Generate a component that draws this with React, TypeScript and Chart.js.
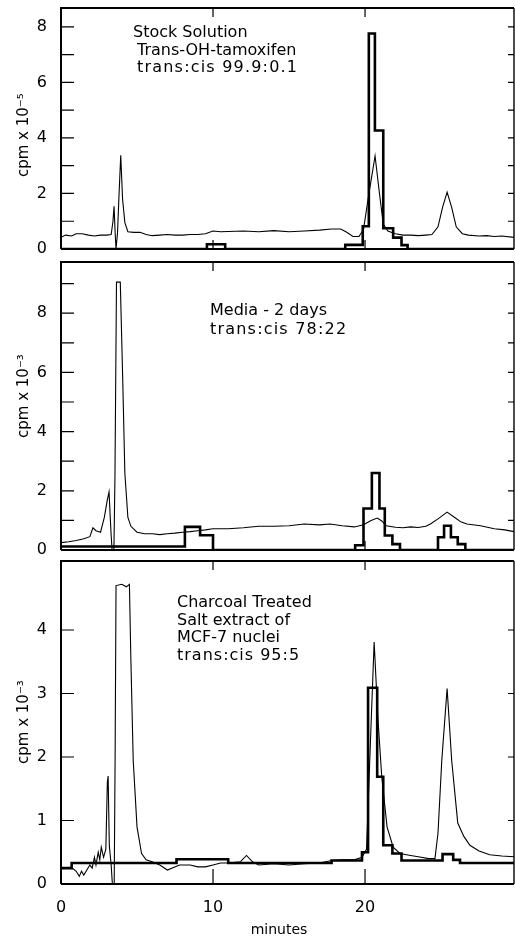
import React, { useEffect, useRef } from 'react';
import { Chart, registerables } from 'chart.js';

Chart.register(...registerables);

const FONT = '"DejaVu Sans", "Noto Sans", sans-serif';

// shared x axis (minutes)
const X_MIN = 0;
const X_MAX = 29.8;
const X_TICKS = [0, 10, 20];
const X_TITLE = 'minutes';

// ---------- Panel 1: Stock solution (cpm x 10^-5) ----------
const P1_TITLE = 'cpm x 10\u207B\u2075';
const P1_NOTES = ['Stock Solution', 'Trans-OH-tamoxifen', 'trans:cis 99.9:0.1'];
const P1_YLABELS = [0, 2, 4, 6, 8];
const P1_YMINOR = [1, 2, 3, 4, 5, 6, 7, 8];
const P1_TRACE: [number, number][] = [
  [0, 0.42], [0.3, 0.5], [0.7, 0.47], [1.0, 0.55], [1.4, 0.55], [1.8, 0.5], [2.2, 0.47], [2.6, 0.5],
  [3.0, 0.5], [3.3, 0.52], [3.42, 1.0], [3.49, 1.54], [3.56, 0.6], [3.62, 0.0], [3.68, 0.0], [3.72, 0.6],
  [3.82, 2.0], [3.93, 3.38], [4.05, 1.8], [4.2, 0.95], [4.4, 0.62], [4.8, 0.6], [5.2, 0.6], [5.6, 0.52],
  [6.0, 0.48], [6.5, 0.5], [7, 0.52], [7.5, 0.5], [8, 0.5], [8.5, 0.52], [9, 0.52], [9.5, 0.55],
  [10, 0.65], [10.5, 0.62], [11, 0.63], [12, 0.65], [13, 0.62], [14, 0.66], [15, 0.62], [16, 0.65],
  [17, 0.68], [17.8, 0.72], [18.4, 0.72], [18.8, 0.6], [19.2, 0.45], [19.6, 0.45], [19.9, 0.7],
  [20.2, 1.8], [20.66, 3.35], [20.95, 2.0], [21.2, 0.9], [21.5, 0.65], [22, 0.55], [22.5, 0.5],
  [23, 0.5], [23.5, 0.48], [24, 0.5], [24.4, 0.52], [24.8, 0.8], [25.1, 1.5], [25.4, 2.05],
  [25.7, 1.5], [26.0, 0.8], [26.4, 0.55], [26.8, 0.5], [27.5, 0.47], [28, 0.48], [28.5, 0.45],
  [29, 0.47], [29.8, 0.42],
];
const P1_HIST: [number, number][] = [
  [0, 0], [9.6, 0.17], [10.8, 0], [18.7, 0.15], [19.85, 0.82], [20.25, 7.76], [20.65, 4.27],
  [21.2, 0.75], [21.85, 0.41], [22.4, 0.14], [22.8, 0], [29.8, 0],
];

// ---------- Panel 2: Media - 2 days (cpm x 10^-3) ----------
const P2_TITLE = 'cpm x 10\u207B\u00B3';
const P2_NOTES = ['Media - 2 days', 'trans:cis 78:22'];
const P2_YLABELS = [0, 2, 4, 6, 8];
const P2_YMINOR = [1, 2, 3, 4, 5, 6, 7, 8, 9];
const P2_TRACE: [number, number][] = [
  [0, 0.25], [0.5, 0.28], [1.0, 0.32], [1.5, 0.38], [1.9, 0.45], [2.1, 0.75], [2.3, 0.65], [2.6, 0.6],
  [2.85, 1.1], [3.05, 1.7], [3.16, 1.96], [3.25, 1.0], [3.3, 0.5], [3.36, 0], [3.48, 0], [3.55, 2.5],
  [3.65, 9.05], [3.9, 9.05], [4.05, 6.0], [4.2, 2.6], [4.4, 1.1], [4.6, 0.8], [5.0, 0.6], [5.5, 0.55],
  [6, 0.55], [6.5, 0.52], [7, 0.55], [7.5, 0.57], [8, 0.6], [8.5, 0.62], [9, 0.65], [9.5, 0.68],
  [10, 0.72], [11, 0.72], [12, 0.75], [13, 0.8], [14, 0.8], [15, 0.82], [16, 0.88], [17, 0.85],
  [17.7, 0.88], [18.5, 0.82], [19.3, 0.78], [19.9, 0.85], [20.4, 1.0], [20.8, 1.08], [21.1, 0.98],
  [21.4, 0.82], [22, 0.77], [22.5, 0.75], [23, 0.78], [23.5, 0.76], [24, 0.8], [24.3, 0.88],
  [24.8, 1.05], [25.4, 1.28], [25.9, 1.1], [26.3, 0.95], [26.7, 0.88], [27.6, 0.82], [28.5, 0.72],
  [29.2, 0.68], [29.8, 0.62],
];
const P2_HIST: [number, number][] = [
  [0, 0.12], [8.15, 0.78], [9.15, 0.5], [10, 0], [19.35, 0.16], [19.9, 1.4], [20.45, 2.6],
  [20.95, 1.4], [21.3, 0.49], [21.8, 0.2], [22.3, 0], [24.8, 0.43], [25.2, 0.82], [25.65, 0.43],
  [26.1, 0.2], [26.6, 0], [29.8, 0],
];

// ---------- Panel 3: Charcoal treated salt extract (cpm x 10^-3) ----------
const P3_TITLE = 'cpm x 10\u207B\u00B3';
const P3_NOTES = ['Charcoal Treated', 'Salt extract of', 'MCF-7 nuclei', 'trans:cis 95:5'];
const P3_YLABELS = [0, 1, 2, 3, 4];
const P3_YMINOR = [1, 2, 3, 4];
const P3_TRACE: [number, number][] = [
  [0, 0.24], [0.4, 0.25], [0.8, 0.24], [1.0, 0.2], [1.2, 0.12], [1.35, 0.2], [1.5, 0.14], [1.7, 0.22],
  [1.9, 0.3], [2.05, 0.25], [2.2, 0.42], [2.3, 0.3], [2.45, 0.5], [2.55, 0.38], [2.65, 0.58],
  [2.8, 0.42], [2.95, 0.55], [3.05, 1.6], [3.1, 1.7], [3.18, 0.6], [3.3, 0.3], [3.38, 0], [3.5, 0],
  [3.56, 2.0], [3.62, 4.7], [4.0, 4.72], [4.3, 4.68], [4.5, 4.72], [4.6, 3.5], [4.75, 1.95],
  [5.0, 0.9], [5.3, 0.48], [5.6, 0.38], [6, 0.35], [6.5, 0.3], [7, 0.22], [7.4, 0.26], [7.8, 0.3],
  [8.5, 0.3], [9, 0.27], [9.5, 0.27], [10, 0.3], [10.5, 0.33], [11, 0.33], [11.8, 0.35], [12.2, 0.45],
  [12.6, 0.35], [13, 0.3], [14, 0.32], [15, 0.3], [16, 0.32], [17, 0.33], [17.8, 0.37], [18.5, 0.38],
  [19.3, 0.38], [19.8, 0.42], [20.1, 0.55], [20.35, 2.2], [20.6, 3.81], [20.85, 2.6], [21.1, 1.69],
  [21.45, 0.9], [21.85, 0.58], [22.3, 0.48], [23, 0.45], [23.5, 0.43], [24.2, 0.4], [24.6, 0.4],
  [24.8, 0.8], [25.05, 1.95], [25.4, 3.08], [25.7, 1.95], [26.1, 0.96], [26.5, 0.75], [26.9, 0.61],
  [27.5, 0.52], [28.2, 0.46], [29, 0.44], [29.8, 0.43],
];
const P3_HIST: [number, number][] = [
  [0, 0.25], [0.7, 0.33], [7.6, 0.39], [11, 0.33], [17.8, 0.37], [19.8, 0.5], [20.2, 3.09],
  [20.8, 1.69], [21.2, 0.61], [21.8, 0.48], [22.4, 0.37], [25.1, 0.47], [25.8, 0.38], [26.25, 0.33],
  [29.8, 0.33],
];

type Note = { text: string; dx: number; dy: number; spacing?: number };
type PanelCfg = {
  top: number;
  height: number;
  areaTop: number;
  areaBottom: number;
  yMax: number;
  yLabels: number[];
  yMinor: number[];
  trace: [number, number][];
  hist: [number, number][];
  title: string;
  titleValue: number;
  notes: Note[];
  showX: boolean;
};

const PANELS: PanelCfg[] = [
  {
    top: 0, height: 275, areaTop: 8, areaBottom: 262, yMax: 8.68,
    yLabels: P1_YLABELS, yMinor: P1_YMINOR, trace: P1_TRACE, hist: P1_HIST,
    title: P1_TITLE, titleValue: 4.1,
    notes: [
      { text: P1_NOTES[0], dx: 72, dy: 29 },
      { text: P1_NOTES[1], dx: 76, dy: 47 },
      { text: P1_NOTES[2], dx: 76, dy: 64, spacing: 1.2 },
    ],
    showX: false,
  },
  {
    top: 255, height: 315, areaTop: 262, areaBottom: 560, yMax: 9.73,
    yLabels: P2_YLABELS, yMinor: P2_YMINOR, trace: P2_TRACE, hist: P2_HIST,
    title: P2_TITLE, titleValue: 5.2,
    notes: [
      { text: P2_NOTES[0], dx: 149, dy: 53 },
      { text: P2_NOTES[1], dx: 149, dy: 72, spacing: 1.2 },
    ],
    showX: false,
  },
  {
    top: 553, height: 383, areaTop: 561, areaBottom: 884, yMax: 5.087,
    yLabels: P3_YLABELS, yMinor: P3_YMINOR, trace: P3_TRACE, hist: P3_HIST,
    title: P3_TITLE, titleValue: 2.55,
    notes: [
      { text: P3_NOTES[0], dx: 116, dy: 46 },
      { text: P3_NOTES[1], dx: 116, dy: 63.5 },
      { text: P3_NOTES[2], dx: 116, dy: 81 },
      { text: P3_NOTES[3], dx: 116, dy: 98.5, spacing: 1.0 },
    ],
    showX: true,
  },
];

function makeFramePlugin(cfg: PanelCfg) {
  return {
    id: 'frameAndText',
    afterDraw(chart: any) {
      const { ctx, chartArea } = chart;
      const { left, right, top, bottom } = chartArea;
      const xs = chart.scales.x;
      const ys = chart.scales.y;
      ctx.save();
      ctx.strokeStyle = '#000';
      ctx.fillStyle = '#000';
      ctx.lineCap = 'butt';
      // frame
      ctx.lineWidth = 2;
      ctx.beginPath();
      ctx.moveTo(left, bottom);
      ctx.lineTo(left, top);
      ctx.lineTo(right, top);
      ctx.moveTo(left, bottom);
      ctx.lineTo(right, bottom);
      ctx.stroke();
      ctx.lineWidth = 1.4;
      ctx.beginPath();
      ctx.moveTo(right, top);
      ctx.lineTo(right, bottom);
      ctx.stroke();
      // y ticks (inward)
      ctx.lineWidth = 1.2;
      ctx.beginPath();
      for (const v of cfg.yMinor) {
        const y = ys.getPixelForValue(v);
        ctx.moveTo(left, y);
        ctx.lineTo(left + 13, y);
        ctx.moveTo(right, y);
        ctx.lineTo(right - 6, y);
      }
      // x ticks (inward, top and bottom)
      for (const v of X_TICKS) {
        if (v === X_MIN) continue;
        const x = xs.getPixelForValue(v);
        ctx.moveTo(x, top);
        ctx.lineTo(x, top + 9);
        ctx.moveTo(x, bottom);
        ctx.lineTo(x, bottom - (cfg.showX ? 15 : 9));
      }
      ctx.stroke();
      // y-axis title
      ctx.save();
      ctx.font = `15px ${FONT}`;
      ctx.textAlign = 'center';
      ctx.textBaseline = 'middle';
      ctx.translate(24, ys.getPixelForValue(cfg.titleValue));
      ctx.rotate(-Math.PI / 2);
      ctx.fillText(cfg.title, 0, 0);
      ctx.restore();
      // annotation text
      ctx.font = `16px ${FONT}`;
      ctx.textAlign = 'left';
      ctx.textBaseline = 'alphabetic';
      for (const n of cfg.notes) {
        (ctx as any).letterSpacing = `${n.spacing ?? 0}px`;
        ctx.fillText(n.text, left + n.dx, top + n.dy);
      }
      (ctx as any).letterSpacing = '0px';
      // x-axis title on the bottom panel
      if (cfg.showX) {
        ctx.font = `14px ${FONT}`;
        ctx.textAlign = 'center';
        ctx.fillText(X_TITLE, left + 218, bottom + 50);
      }
      ctx.restore();
    },
  };
}

function Panel({ cfg }: { cfg: PanelCfg }) {
  const ref = useRef<HTMLCanvasElement | null>(null);
  useEffect(() => {
    const canvas = ref.current;
    if (!canvas) return;
    const xAxisHeight = cfg.top + cfg.height - cfg.areaBottom;
    const chart = new Chart(canvas, {
      type: 'line',
      data: {
        datasets: [
          {
            data: cfg.hist.map(([x, y]) => ({ x, y })),
            borderColor: '#000',
            borderWidth: 2.6,
            stepped: 'before',
            pointRadius: 0,
            fill: false,
          },
          {
            data: cfg.trace.map(([x, y]) => ({ x, y })),
            borderColor: '#000',
            borderWidth: 1.1,
            pointRadius: 0,
            tension: 0,
            fill: false,
          },
        ],
      },
      options: {
        responsive: false,
        animation: false,
        events: [],
        layout: {
          padding: {
            top: cfg.areaTop - cfg.top,
            bottom: cfg.showX ? 0 : cfg.top + cfg.height - cfg.areaBottom,
            left: 0,
            right: 1,
          },
        },
        plugins: {
          legend: { display: false },
          tooltip: { enabled: false },
          title: { display: false },
        },
        scales: {
          x: {
            type: 'linear',
            min: X_MIN,
            max: X_MAX,
            display: cfg.showX,
            grid: { display: false },
            border: { display: false },
            ticks: {
              color: '#000',
              font: { family: FONT, size: 16 },
              padding: 6,
              maxRotation: 0,
              autoSkip: false,
            },
            afterBuildTicks: (s: any) => {
              s.ticks = X_TICKS.map((v) => ({ value: v }));
            },
            afterFit: (s: any) => {
              s.height = xAxisHeight;
              s.paddingLeft = 0;
              s.paddingRight = 0;
            },
          },
          y: {
            type: 'linear',
            min: 0,
            max: cfg.yMax,
            grid: { display: false },
            border: { display: false },
            ticks: {
              color: '#000',
              font: { family: FONT, size: 16 },
              padding: 6,
            },
            afterBuildTicks: (s: any) => {
              s.ticks = cfg.yLabels.map((v) => ({ value: v }));
            },
            afterFit: (s: any) => {
              s.width = 61;
              s.paddingTop = 0;
              s.paddingBottom = 0;
            },
          },
        },
      } as any,
      plugins: [makeFramePlugin(cfg)],
    });
    return () => chart.destroy();
  }, [cfg]);
  return (
    <canvas
      ref={ref}
      width={515}
      height={cfg.height}
      style={{ position: 'absolute', left: 0, top: cfg.top, width: 515, height: cfg.height, display: 'block' }}
    />
  );
}

export default function App() {
  return (
    <div style={{ position: 'absolute', left: 0, top: 0, width: 515, height: 936, background: '#fff', overflow: 'hidden' }}>
      {PANELS.map((p, i) => (
        <Panel key={i} cfg={p} />
      ))}
    </div>
  );
}
